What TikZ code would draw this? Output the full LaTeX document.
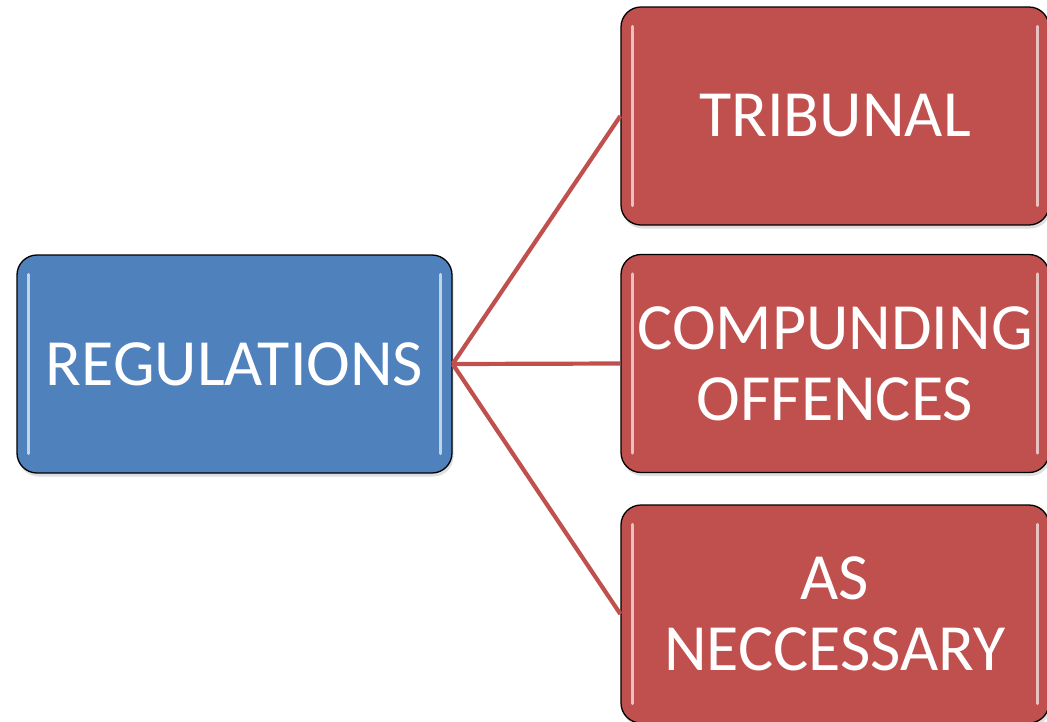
\documentclass[tikz,border=0pt]{standalone}
\usepackage{fontspec}
\setmainfont{Carlito}
\usetikzlibrary{shadows}
\definecolor{accblue}{HTML}{4F81BD}
\definecolor{accred}{HTML}{C0504D}
\begin{document}
\begin{tikzpicture}[x=1pt,y=-1pt,
  card/.style={draw=black, line width=1.3pt, rounded corners=20pt,
    inner sep=0pt, align=center, text=white,
    font=\fontsize{66}{71}\selectfont,
    drop shadow={opacity=0.25, shadow xshift=1.5pt, shadow yshift=-3.5pt}},
  rootcard/.style={card, fill=accblue, minimum width=435pt, minimum height=218pt},
  leafcard/.style={card, fill=accred, minimum width=428pt, minimum height=218pt},
  link/.style={draw=accred, line width=4.2pt},
  gloss/.style={line width=3pt, line cap=round, draw=white, opacity=0.65}]
\useasboundingbox (0,0) rectangle (1047,721);
\clip (0,0) rectangle (1047,721);

\node[rootcard] (reg) at (234.5,364) {REGULATIONS};
\node[leafcard] (trib) at (835,116) {TRIBUNAL};
\node[leafcard] (comp) at (835,363.5) {COMPUNDING\\OFFENCES};
\node[leafcard] (need) at (835,614) {AS\\NECCESSARY};

\draw[link] (reg.east) -- (trib.west);
\draw[link] (reg.east) -- (comp.west);
\draw[link] (reg.east) -- (need.west);

% glossy strips along the inner side edges
\foreach \n in {reg,trib,comp,need}{
  \draw[gloss] ([xshift=12pt,yshift=-20pt]\n.north west) -- ([xshift=12pt,yshift=20pt]\n.south west);
  \draw[gloss] ([xshift=-12pt,yshift=-20pt]\n.north east) -- ([xshift=-12pt,yshift=20pt]\n.south east);
}
\end{tikzpicture}
\end{document}
